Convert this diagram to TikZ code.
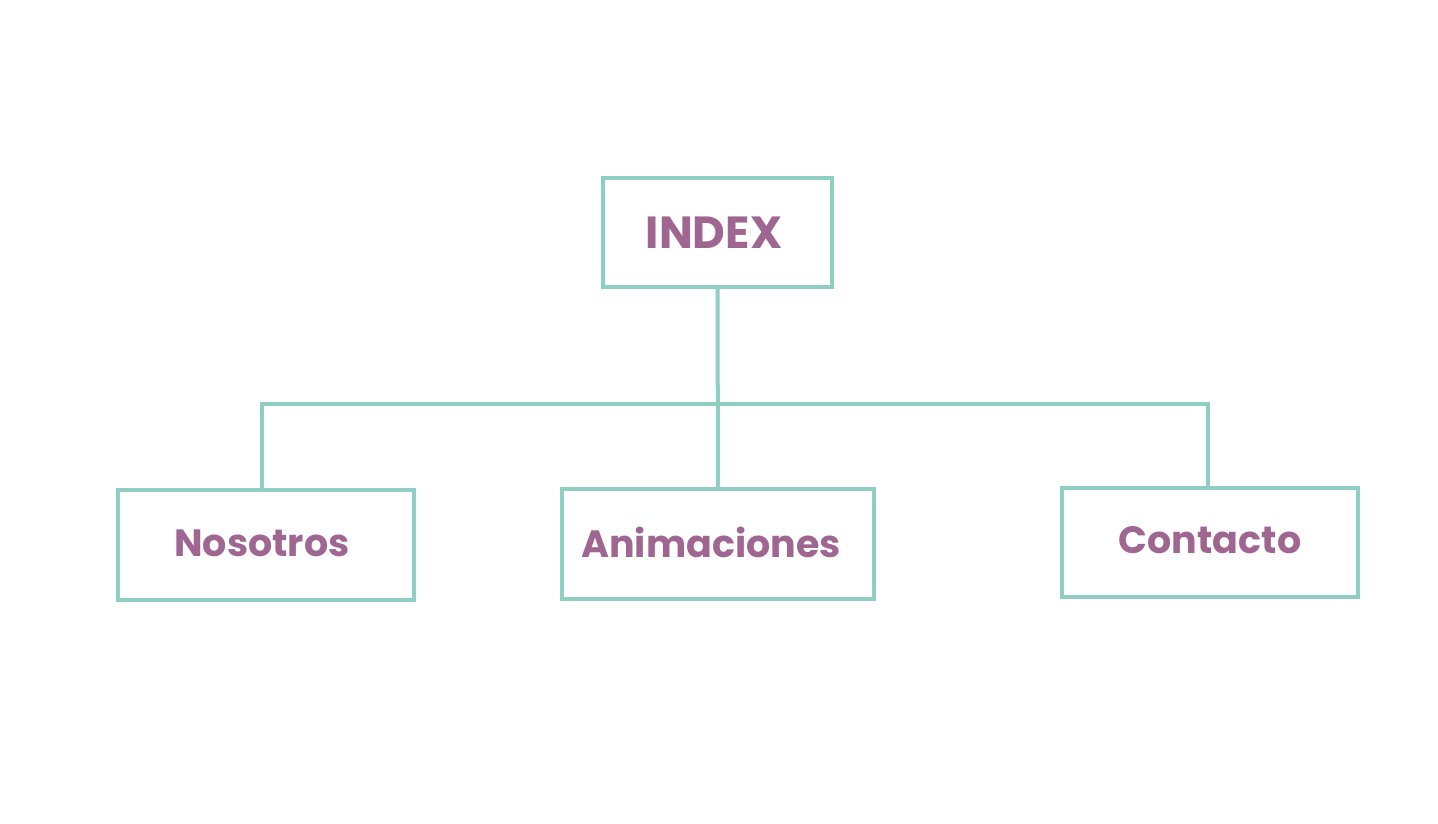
\documentclass[tikz,border=0pt]{standalone}
\usepackage{fontspec}
\setmainfont{Poppins}
\definecolor{teal}{RGB}{143,206,195}
\definecolor{plum}{RGB}{160,102,146}
\begin{document}
\begin{tikzpicture}[x=1pt,y=-1pt,
  box/.style={draw=teal,line width=4pt,inner sep=0pt},
  lbl/.style={text=plum,font=\bfseries\fontsize{38}{40}\selectfont,inner sep=0pt},
  link/.style={draw=teal,line width=4pt}]
\useasboundingbox[fill=white] (0,0) rectangle (1438,824);
\node[box,minimum width=229pt,minimum height=109pt] (index) at (717.5,232.5) {};
\node[lbl,font=\bfseries\fontsize{45}{48}\selectfont] (tindex) at (714,233) {INDEX};
\node[box,minimum width=296pt,minimum height=110pt] (nos) at (266,545) {};
\node[lbl] (tnos) at (262,543) {Nosotros};
\node[box,minimum width=312pt,minimum height=110pt] (ani) at (718,544) {};
\node[lbl] (tani) at (711,542) {Animaciones};
\node[box,minimum width=296pt,minimum height=109pt] (con) at (1210,542.5) {};
\node[lbl] (tcon) at (1210,540) {Contacto};
\coordinate (hl) at (262,404);
\coordinate (hr) at (1208,404);
\draw[link] (index.south) -- (ani.north);
\draw[link] (nos.north -| hl) -- (hl) -- (hr) -- (con.north -| hr);
\end{tikzpicture}
\end{document}
